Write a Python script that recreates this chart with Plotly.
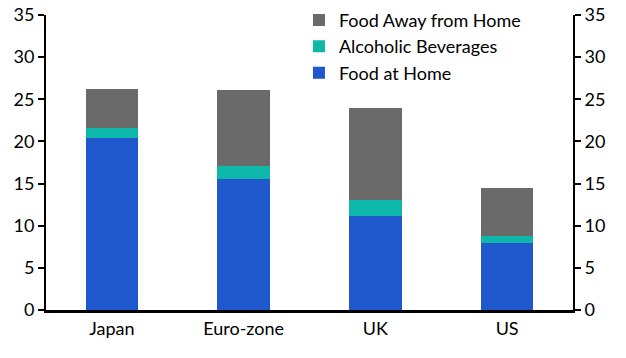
import plotly.graph_objects as go

categories = ["Japan", "Euro-zone", "UK", "US"]
food_at_home = [20.4, 15.5, 11.15, 7.95]
alcoholic_beverages = [1.2, 1.6, 1.9, 0.85]
food_away = [4.6, 9.0, 10.95, 5.7]
tick_vals = [0, 5, 10, 15, 20, 25, 30, 35]

FONT = dict(family="Lato, 'Open Sans', sans-serif", size=18, color="#000000")

fig = go.Figure()
fig.add_trace(go.Bar(x=categories, y=food_at_home, name="Food at Home",
                     marker=dict(color="#1f58cc", line=dict(width=0)), width=0.4))
fig.add_trace(go.Bar(x=categories, y=alcoholic_beverages, name="Alcoholic Beverages",
                     marker=dict(color="#0db8ab", line=dict(width=0)), width=0.4))
fig.add_trace(go.Bar(x=categories, y=food_away, name="Food Away from Home",
                     marker=dict(color="#6a6a6a", line=dict(width=0)), width=0.4))
fig.add_trace(go.Scatter(x=categories, y=[None]*4, yaxis="y2", showlegend=False,
                         hoverinfo="skip", mode="lines"))

axis_common = dict(range=[0, 35], tickvals=tick_vals, showgrid=False, zeroline=False,
                   showline=True, linecolor="black", linewidth=2, ticks="outside",
                   ticklen=6, tickwidth=2, tickcolor="black", tickfont=FONT,
                   automargin=False, ticklabeloverflow="allow")

fig.update_layout(
    width=626, height=358,
    margin=dict(l=46, r=53, t=15, b=48, autoexpand=False),
    paper_bgcolor="white", plot_bgcolor="white",
    barmode="stack", bargap=0.6,
    font=FONT,
    xaxis=dict(showline=True, linecolor="black", linewidth=3, ticks="",
               tickfont=FONT, showgrid=False, automargin=False),
    yaxis=dict(side="left", **axis_common),
    yaxis2=dict(side="right", overlaying="y", **axis_common),
    legend=dict(x=0.48, y=1.045, xanchor="left", yanchor="top", traceorder="reversed",
                font=FONT, bgcolor="rgba(0,0,0,0)", tracegroupgap=0),
    showlegend=True,
)

fig.write_html("out.html", config={"displayModeBar": False},
               post_script="document.body.style.margin='0';")
